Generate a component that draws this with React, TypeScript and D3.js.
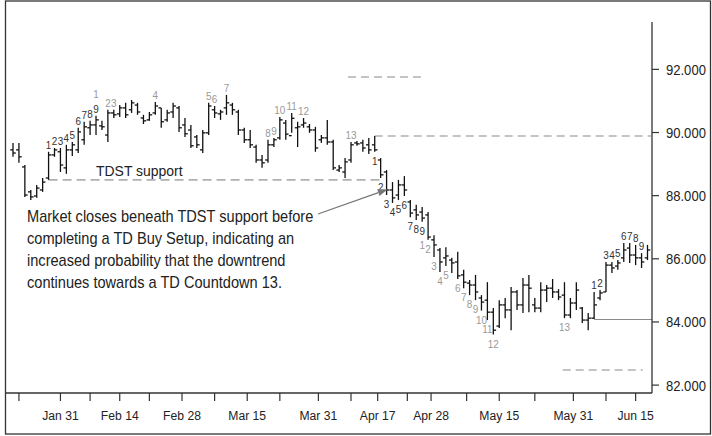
import React from 'react';
import * as d3 from 'd3';

// OHLC per trading day (index 0 .. 107)
const highs = [89.67,89.67,88.97,88.18,88.34,88.56,89.39,89.51,89.51,89.61,89.70,90.15,90.34,90.37,90.53,90.37,90.72,90.72,90.87,90.94,91.03,90.94,90.56,90.65,90.97,90.78,90.72,90.94,90.84,90.46,90.24,89.92,90.08,90.94,90.84,90.72,91.19,90.94,90.72,90.15,90.08,89.61,89.29,89.77,89.83,90.49,90.40,90.62,90.34,90.46,90.27,90.18,89.92,90.40,89.77,88.97,89.19,89.70,89.73,89.77,89.83,89.89,89.19,88.81,88.43,88.50,88.62,87.86,87.71,87.64,87.48,86.75,86.34,86.37,86.03,86.22,85.65,85.33,85.49,84.85,85.26,84.44,84.69,84.76,85.11,85.01,85.39,85.49,84.76,85.26,85.17,85.36,85.04,85.26,84.76,85.26,84.47,84.28,84.95,85.01,85.90,85.90,85.96,86.50,86.50,86.44,86.18,86.44];
const lows = [89.23,89.04,87.96,87.86,87.93,88.12,88.50,89.23,88.75,88.69,89.26,89.35,89.61,89.92,89.92,90.08,89.70,90.46,90.49,90.46,90.62,90.56,90.27,90.37,90.56,90.15,90.34,90.46,90.02,89.86,89.51,89.51,89.35,89.92,90.46,90.40,90.56,90.56,89.92,89.67,89.51,89.04,88.88,89.04,89.54,89.77,89.77,89.99,89.54,90.15,89.99,89.39,89.67,89.61,88.81,88.75,88.56,89.04,89.58,89.39,89.32,89.39,88.56,88.02,87.77,87.86,87.99,87.32,87.23,87.17,86.60,86.06,85.58,85.77,85.55,85.36,85.07,84.85,84.69,84.36,84.06,83.60,83.81,84.12,83.74,84.38,84.28,84.31,84.31,84.31,84.63,84.76,84.69,84.12,84.12,84.38,83.97,83.74,84.09,84.69,84.95,85.55,85.65,85.90,85.87,85.80,85.71,85.96];
const opens = [89.45,89.45,88.91,88.12,87.99,88.18,88.56,89.29,89.39,88.88,89.45,89.45,89.77,90.15,90.24,90.21,89.92,90.62,90.59,90.78,90.72,90.87,90.46,90.40,90.62,90.78,90.40,90.65,90.78,90.24,90.08,89.86,89.45,89.99,90.72,90.59,90.78,90.87,90.65,90.08,89.77,89.54,89.13,89.13,89.61,89.83,90.30,89.90,90.15,90.24,90.18,90.08,89.77,89.83,89.70,88.81,88.75,89.13,89.67,89.67,89.61,89.61,89.13,88.75,88.18,88.02,88.34,87.80,87.55,87.48,87.39,86.60,86.28,86.03,85.96,85.90,85.49,85.23,85.17,84.76,84.69,84.31,83.87,84.54,84.38,84.95,84.54,85.17,84.54,84.44,85.01,85.07,84.95,84.85,84.22,84.60,84.44,84.06,84.12,84.76,84.95,85.80,85.77,86.03,86.34,86.12,86.03,86.03];
const closes = [89.35,89.23,88.02,87.96,88.24,88.43,89.29,89.45,88.97,89.45,89.61,90.02,90.18,90.24,90.40,90.18,90.62,90.56,90.78,90.56,90.94,90.65,90.37,90.56,90.84,90.34,90.62,90.84,90.15,89.96,89.58,89.61,89.99,90.84,90.62,90.65,90.94,90.72,90.08,89.77,89.61,89.13,89.04,89.61,89.77,90.40,89.95,90.45,90.18,90.30,90.08,89.51,89.83,89.70,88.88,88.88,89.07,89.61,89.64,89.51,89.45,89.45,88.66,88.18,87.93,88.34,88.18,87.45,87.39,87.29,86.69,86.44,85.90,86.09,85.87,85.46,85.26,85.17,84.95,84.63,84.31,83.74,84.54,84.38,84.95,84.54,85.17,85.07,84.44,85.01,85.07,84.95,84.79,84.22,84.60,85.01,84.06,84.12,84.54,84.92,85.80,85.71,85.87,86.28,86.12,86.03,85.90,86.28];

// TD Sequential counts (bar index of each count, count = position + 1)
const sellSetupBars = [6, 7, 8, 9, 10, 11, 12, 13, 14];
const sellCountdownBars = [14, 16, 17, 24, 33, 34, 36, 43, 44, 45, 47, 49, 57];
const buySetupBars = [61, 62, 63, 64, 65, 66, 67, 68, 69];
const buyCountdownBars = [69, 70, 71, 72, 73, 75, 76, 77, 78, 79, 80, 81, 93];
const lateSellSetupBars = [98, 99, 100, 101, 102, 103, 104, 105, 106];

// Reference levels
const tdstSupport = { from: 6, to: 62.5, value: 88.5 };
const tdstResistance = { from: 61, to: 107.6, value: 89.89 };
const upperLevel = { from: 56.5, to: 68.8, value: 91.76 };
const lowerLevel = { from: 92.7, to: 106.2, value: 82.48 };
const lateSupport = { from: 98, to: 107.76, value: 84.08 };
const arrowTarget = { i: 63.2, value: 88.2 };

// Axes
const yTicks = [82, 84, 86, 88, 90, 92];
const xTickIdx = [1, 8, 13, 18, 23, 28.5, 34, 39.5, 45, 51.5, 57, 61.5, 66.5, 70.5, 76.5, 82, 88, 94.5, 100, 105];
const xTickLabels = ['', 'Jan 31', '', 'Feb 14', '', 'Feb 28', '', 'Mar 15', '', 'Mar 31', '', 'Apr 17', '', 'Apr 28', '', 'May 15', '', 'May 31', '', 'Jun 15'];

const noteLines = [
  'Market closes beneath TDST support before',
  'completing a TD Buy Setup, indicating an',
  'increased probability that the downtrend',
  'continues towards a TD Countdown 13.',
];

const FONT = "'Liberation Sans', Arial, Helvetica, sans-serif";
const NARROW = 0.9;

function NT(props: { x: number; y: number; size: number; fill?: string; anchor?: string; children: React.ReactNode }) {
  const { x, y, size, fill = '#222', anchor = 'start', children } = props;
  return (
    <text
      transform={`translate(${x},${y}) scale(${NARROW},1)`}
      fontSize={size}
      fill={fill}
      textAnchor={anchor}
      fontFamily={FONT}
    >
      {children}
    </text>
  );
}

export default function App() {
  const W = 712, H = 436;
  const x = d3.scaleLinear().domain([-1.18, 107.76]).range([6, 652]);
  const y = d3.scaleLinear().domain([81.75, 93.5]).range([393, 22]);
  const bars = d3.range(highs.length);
  const dark = '#333';
  const light = '#999';

  const seg = (l: { from: number; to: number; value: number }) => ({
    x1: x(l.from), x2: x(l.to), y1: y(l.value), y2: y(l.value),
  });

  const labels: React.ReactNode[] = [];
  const stackCount: Record<string, number> = {};
  const addAbove = (arr: number[], color: string, key: string) => {
    arr.forEach((i, k) => {
      const n = stackCount['a' + i] || 0;
      stackCount['a' + i] = n + 1;
      labels.push(
        <NT key={key + k} x={x(i)} y={y(highs[i]) - 3 - n * 15} size={11} fill={color} anchor="middle">{k + 1}</NT>
      );
    });
  };
  const addBelow = (arr: number[], color: string, key: string) => {
    arr.forEach((i, k) => {
      const n = stackCount['b' + i] || 0;
      stackCount['b' + i] = n + 1;
      labels.push(
        <NT key={key + k} x={x(i)} y={y(lows[i]) + 13 + n * 14} size={11} fill={color} anchor="middle">{k + 1}</NT>
      );
    });
  };
  addAbove(sellSetupBars, dark, 'ss');
  addAbove(sellCountdownBars, light, 'sc');
  addBelow(buySetupBars, dark, 'bs');
  addBelow(buyCountdownBars, light, 'bc');
  addAbove(lateSellSetupBars, dark, 'ls');

  const ax = x(arrowTarget.i), ay = y(arrowTarget.value);
  const sx = 318, sy = 214;
  const ang = Math.atan2(ay - sy, ax - sx);
  const ah = 10, aw = 3.6;
  const bx = ax - ah * Math.cos(ang), by = ay - ah * Math.sin(ang);
  const arrowHead = `M${ax},${ay} L${bx + aw * Math.sin(ang)},${by - aw * Math.cos(ang)} L${bx - aw * Math.sin(ang)},${by + aw * Math.cos(ang)} Z`;

  return (
    <svg width={W} height={H} style={{ position: 'absolute', left: 0, top: 0, background: '#fff' }}>
      <rect x={5.5} y={1} width={705} height={433} fill="#fff" stroke="#333" strokeWidth={1.3} />

      {/* reference levels */}
      <line {...seg(tdstSupport)} stroke="#b0b0b0" strokeWidth={1.7} strokeDasharray="9,5" />
      <line {...seg(tdstResistance)} stroke="#8a8a8a" strokeWidth={1.1} strokeDasharray="8,5" />
      <line {...seg(upperLevel)} stroke="#8a8a8a" strokeWidth={1.1} strokeDasharray="8,5" />
      <line {...seg(lowerLevel)} stroke="#8a8a8a" strokeWidth={1.1} strokeDasharray="8,5" />
      <line {...seg(lateSupport)} stroke="#8a8a8a" strokeWidth={1.1} />

      {/* OHLC bars */}
      <g stroke="#111" strokeWidth={1.3}>
        {bars.map((i) => (
          <g key={i}>
            <line x1={x(i)} x2={x(i)} y1={y(highs[i])} y2={y(lows[i])} />
            <line x1={x(i) - 2.8} x2={x(i)} y1={y(opens[i])} y2={y(opens[i])} />
            <line x1={x(i)} x2={x(i) + 2.8} y1={y(closes[i])} y2={y(closes[i])} />
          </g>
        ))}
      </g>

      {labels}

      {/* annotations */}
      <NT x={96} y={176} size={15.5}>TDST support</NT>
      {noteLines.map((t, k) => (
        <NT key={k} x={27} y={222 + k * 22} size={16.2}>{t}</NT>
      ))}
      <line x1={sx} y1={sy} x2={bx} y2={by} stroke="#777" strokeWidth={1.3} />
      <path d={arrowHead} fill="#777" />

      {/* y axis */}
      <line x1={652} x2={652} y1={22} y2={393} stroke="#333" strokeWidth={1.3} />
      {yTicks.map((v) => (
        <g key={v}>
          <line x1={652} x2={659} y1={y(v)} y2={y(v)} stroke="#333" strokeWidth={1.2} />
          <NT x={666} y={y(v) + 5.5} size={14.5}>{d3.format('.3f')(v)}</NT>
        </g>
      ))}

      {/* x axis */}
      <line x1={6} x2={652} y1={393} y2={393} stroke="#333" strokeWidth={1.3} />
      {xTickIdx.map((t, k) => (
        <g key={k}>
          <line x1={x(t)} x2={x(t)} y1={393} y2={401} stroke="#333" strokeWidth={1.2} />
          {xTickLabels[k] ? (
            <NT x={x(t)} y={420} size={13.5} anchor="middle">{xTickLabels[k]}</NT>
          ) : null}
        </g>
      ))}
    </svg>
  );
}
